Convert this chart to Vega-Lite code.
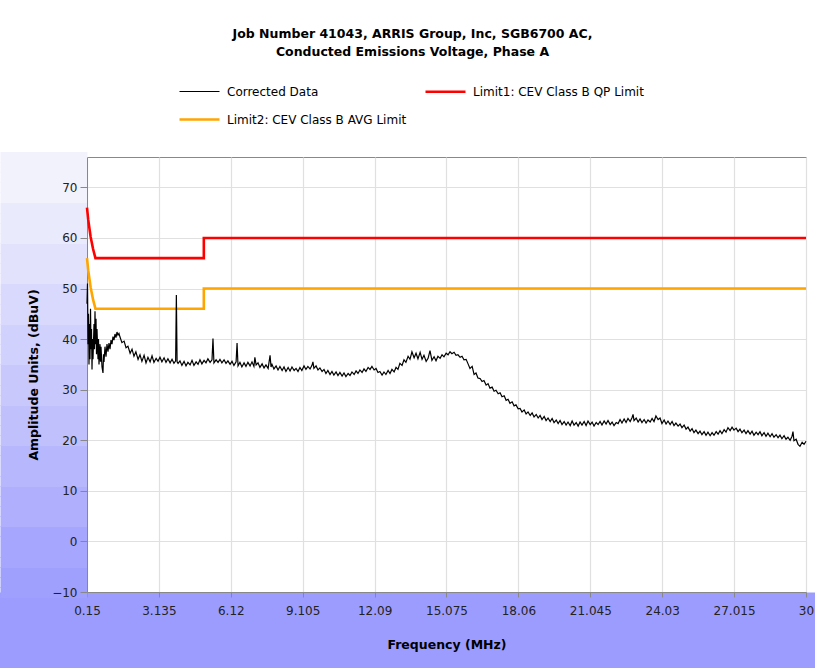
{
  "$schema": "https://vega.github.io/schema/vega-lite/v6.json",
  "width": 719,
  "height": 435,
  "autosize": {"type": "none"},
  "padding": {"left": 87, "top": 157, "right": 9, "bottom": 76},
  "background": "#ffffff",
  "title": {
    "text": ["Job Number 41043, ARRIS  Group, Inc, SGB6700 AC,", "Conducted Emissions Voltage, Phase A"],
    "anchor": "middle", "dx": -34, "font": "DejaVu Sans", "fontSize": 12.5, "fontWeight": "bold",
    "color": "#000000", "lineHeight": 18, "offset": 12
  },
  "config": {
    "view": {"stroke": "#888888", "strokeWidth": 1, "fill": "#ffffff"},
    "axis": {"labelFont": "DejaVu Sans", "labelFontSize": 12, "labelColor": "#222222", "titleFont": "DejaVu Sans", "titleFontSize": 12.5, "titleFontWeight": "bold", "titleColor": "#000000", "domainColor": "#888888", "gridColor": "#e0e0e0", "gridWidth": 1.2}
  },
  "resolve": {"axis": {"x": "independent", "y": "independent"}},
  "datasets": {
    "limits": [
      {"f": 0.15, "v": 66, "s": "Limit1: CEV Class B QP Limit", "o": 1},
      {"f": 0.2, "v": 63.61, "s": "Limit1: CEV Class B QP Limit", "o": 2},
      {"f": 0.3, "v": 60.24, "s": "Limit1: CEV Class B QP Limit", "o": 3},
      {"f": 0.4, "v": 57.85, "s": "Limit1: CEV Class B QP Limit", "o": 4},
      {"f": 0.5, "v": 56, "s": "Limit1: CEV Class B QP Limit", "o": 5},
      {"f": 5, "v": 56, "s": "Limit1: CEV Class B QP Limit", "o": 6},
      {"f": 5, "v": 60, "s": "Limit1: CEV Class B QP Limit", "o": 7},
      {"f": 30, "v": 60, "s": "Limit1: CEV Class B QP Limit", "o": 8},
      {"f": 0.15, "v": 56, "s": "Limit2: CEV Class B AVG Limit", "o": 1},
      {"f": 0.2, "v": 53.61, "s": "Limit2: CEV Class B AVG Limit", "o": 2},
      {"f": 0.3, "v": 50.24, "s": "Limit2: CEV Class B AVG Limit", "o": 3},
      {"f": 0.4, "v": 47.85, "s": "Limit2: CEV Class B AVG Limit", "o": 4},
      {"f": 0.5, "v": 46, "s": "Limit2: CEV Class B AVG Limit", "o": 5},
      {"f": 5, "v": 46, "s": "Limit2: CEV Class B AVG Limit", "o": 6},
      {"f": 5, "v": 50, "s": "Limit2: CEV Class B AVG Limit", "o": 7},
      {"f": 30, "v": 50, "s": "Limit2: CEV Class B AVG Limit", "o": 8}
    ],
    "trace": [
      {"f":0.150,"v":47},{"f":0.171,"v":51},{"f":0.192,"v":39},{"f":0.212,"v":45},{"f":0.233,"v":35},{"f":0.254,"v":43},{"f":0.275,"v":36},{"f":0.296,"v":46},{"f":0.316,"v":38},{"f":0.337,"v":42},
      {"f":0.358,"v":34},{"f":0.378,"v":40},{"f":0.399,"v":36},{"f":0.441,"v":43},{"f":0.461,"v":38},{"f":0.482,"v":45.5},{"f":0.503,"v":39},{"f":0.524,"v":44},{"f":0.545,"v":37},{"f":0.565,"v":42},
      {"f":0.607,"v":36},{"f":0.628,"v":40},{"f":0.648,"v":35},{"f":0.690,"v":39},{"f":0.711,"v":35.5},{"f":0.731,"v":38.5},{"f":0.773,"v":34.5},{"f":0.814,"v":33.3},{"f":0.835,"v":37},{"f":0.856,"v":35.5},
      {"f":0.897,"v":38.5},{"f":0.939,"v":36.5},{"f":0.980,"v":39},{"f":1.022,"v":37.5},{"f":1.063,"v":39.2},{"f":1.105,"v":38},{"f":1.146,"v":39.8},{"f":1.188,"v":39},{"f":1.229,"v":40.5},{"f":1.271,"v":39.8},
      {"f":1.312,"v":41},{"f":1.354,"v":40.3},{"f":1.395,"v":41.4},{"f":1.437,"v":40.8},{"f":1.478,"v":41.1},
      {"f":1.52,"v":40.4},{"f":1.60,"v":39.3},{"f":1.69,"v":39.6},{"f":1.77,"v":38.3},{"f":1.85,"v":38.6},{"f":1.94,"v":37.2},{"f":2.02,"v":38.0},{"f":2.10,"v":36.6},{"f":2.18,"v":37.5},{"f":2.27,"v":36.0},
      {"f":2.35,"v":36.9},{"f":2.43,"v":35.6},{"f":2.52,"v":36.8},{"f":2.60,"v":35.3},{"f":2.68,"v":36.4},{"f":2.77,"v":35.5},{"f":2.85,"v":36.7},{"f":2.93,"v":35.4},{"f":3.02,"v":36.2},{"f":3.10,"v":35.6},
      {"f":3.18,"v":36.4},{"f":3.26,"v":35.5},{"f":3.35,"v":36.3},{"f":3.43,"v":35.4},{"f":3.51,"v":36.1},{"f":3.60,"v":35.3},{"f":3.68,"v":36.0},{"f":3.76,"v":35.2},{"f":3.83,"v":35.7},{"f":3.86,"v":48.7},{"f":3.89,"v":35.5},{"f":3.93,"v":35.2},
      {"f":4.01,"v":35.7},{"f":4.09,"v":34.8},{"f":4.18,"v":35.6},{"f":4.26,"v":34.7},{"f":4.34,"v":35.4},{"f":4.43,"v":34.9},{"f":4.51,"v":35.8},{"f":4.59,"v":34.8},{"f":4.68,"v":35.5},{"f":4.76,"v":35.0},
      {"f":4.84,"v":35.9},{"f":4.92,"v":35.1},{"f":5.01,"v":35.8},{"f":5.09,"v":35.3},{"f":5.17,"v":36.1},{"f":5.26,"v":35.4},{"f":5.34,"v":35.9},{"f":5.38,"v":40.1},{"f":5.42,"v":35.3},{"f":5.51,"v":35.9},{"f":5.59,"v":35.4},
      {"f":5.67,"v":36.0},{"f":5.75,"v":35.3},{"f":5.84,"v":35.9},{"f":5.92,"v":35.2},{"f":6.00,"v":35.7},{"f":6.09,"v":35.0},{"f":6.17,"v":35.6},{"f":6.25,"v":34.8},{"f":6.34,"v":35.5},{"f":6.38,"v":39.2},{"f":6.42,"v":34.7},
      {"f":6.50,"v":35.4},{"f":6.58,"v":34.5},{"f":6.67,"v":35.3},{"f":6.75,"v":34.6},{"f":6.83,"v":35.4},{"f":6.92,"v":34.7},{"f":7.00,"v":35.5},{"f":7.08,"v":34.6},{"f":7.12,"v":36.4},{"f":7.17,"v":34.9},{"f":7.25,"v":35.3},
      {"f":7.33,"v":34.4},{"f":7.42,"v":35.1},{"f":7.50,"v":34.3},{"f":7.58,"v":34.9},{"f":7.67,"v":34.2},{"f":7.75,"v":36.8},{"f":7.79,"v":34.5},{"f":7.83,"v":35.0},{"f":7.91,"v":34.1},{"f":8.00,"v":34.7},{"f":8.08,"v":33.9},
      {"f":8.16,"v":34.6},{"f":8.25,"v":33.8},{"f":8.33,"v":34.5},{"f":8.41,"v":33.6},{"f":8.50,"v":34.4},{"f":8.58,"v":33.7},{"f":8.66,"v":34.5},{"f":8.75,"v":33.8},{"f":8.83,"v":34.2},{"f":8.91,"v":33.6},
      {"f":8.99,"v":34.4},{"f":9.07,"v":33.8},{"f":9.16,"v":34.7},{"f":9.24,"v":34.0},{"f":9.32,"v":34.6},{"f":9.41,"v":34.1},{"f":9.49,"v":34.8},{"f":9.53,"v":35.5},{"f":9.57,"v":34.2},{"f":9.66,"v":34.7},{"f":9.74,"v":33.9},
      {"f":9.82,"v":34.3},{"f":9.91,"v":33.6},{"f":9.99,"v":34.0},{"f":10.07,"v":33.2},{"f":10.15,"v":33.8},{"f":10.24,"v":33.0},{"f":10.32,"v":33.6},{"f":10.40,"v":32.9},{"f":10.49,"v":33.5},{"f":10.57,"v":32.8},
      {"f":10.65,"v":33.4},{"f":10.74,"v":32.7},{"f":10.82,"v":33.3},{"f":10.90,"v":32.6},{"f":10.99,"v":33.2},{"f":11.07,"v":32.8},{"f":11.15,"v":33.5},{"f":11.24,"v":33.0},{"f":11.32,"v":33.7},{"f":11.40,"v":33.2},
      {"f":11.48,"v":33.9},{"f":11.57,"v":33.4},{"f":11.65,"v":34.1},{"f":11.73,"v":33.6},{"f":11.82,"v":34.4},{"f":11.90,"v":34.0},{"f":11.98,"v":34.6},{"f":12.07,"v":33.9},{"f":12.15,"v":34.2},{"f":12.23,"v":33.4},
      {"f":12.31,"v":33.6},{"f":12.40,"v":32.9},{"f":12.48,"v":33.5},{"f":12.56,"v":33.0},{"f":12.65,"v":33.8},{"f":12.73,"v":33.2},{"f":12.81,"v":34.0},{"f":12.90,"v":33.5},{"f":12.98,"v":34.4},{"f":13.06,"v":34.0},
      {"f":13.14,"v":35.2},{"f":13.23,"v":34.8},{"f":13.31,"v":35.9},{"f":13.39,"v":35.4},{"f":13.48,"v":36.6},{"f":13.56,"v":36.0},{"f":13.64,"v":37.5},{"f":13.73,"v":36.3},{"f":13.81,"v":37.2},{"f":13.89,"v":36.1},
      {"f":13.98,"v":37.4},{"f":14.06,"v":36.0},{"f":14.14,"v":36.8},{"f":14.23,"v":35.6},{"f":14.31,"v":36.2},{"f":14.39,"v":37.7},{"f":14.47,"v":35.8},{"f":14.56,"v":36.5},{"f":14.64,"v":35.7},{"f":14.72,"v":36.6},
      {"f":14.81,"v":36.2},{"f":14.89,"v":36.9},{"f":14.97,"v":36.5},{"f":15.06,"v":37.2},{"f":15.14,"v":36.9},{"f":15.22,"v":37.5},{"f":15.30,"v":37.1},{"f":15.39,"v":37.4},{"f":15.47,"v":36.8},{"f":15.55,"v":36.9},
      {"f":15.64,"v":36.4},{"f":15.72,"v":36.6},{"f":15.80,"v":35.9},{"f":15.89,"v":36.0},{"f":15.97,"v":35.1},{"f":16.05,"v":34.2},{"f":16.14,"v":34.6},{"f":16.22,"v":33.0},{"f":16.30,"v":33.3},{"f":16.38,"v":32.3},
      {"f":16.47,"v":32.2},{"f":16.55,"v":31.6},{"f":16.63,"v":31.8},{"f":16.72,"v":30.9},{"f":16.80,"v":31.2},{"f":16.88,"v":30.3},{"f":16.97,"v":30.5},{"f":17.05,"v":29.7},{"f":17.13,"v":29.9},{"f":17.22,"v":29.2},
      {"f":17.30,"v":29.4},{"f":17.38,"v":28.6},{"f":17.47,"v":28.8},{"f":17.55,"v":27.9},{"f":17.63,"v":28.1},{"f":17.71,"v":27.3},{"f":17.80,"v":27.6},{"f":17.88,"v":26.8},{"f":17.96,"v":27.0},{"f":18.05,"v":26.2},
      {"f":18.13,"v":26.3},{"f":18.21,"v":25.6},{"f":18.30,"v":26.0},{"f":18.38,"v":25.2},{"f":18.46,"v":25.6},{"f":18.55,"v":24.9},{"f":18.63,"v":25.4},{"f":18.71,"v":24.6},{"f":18.80,"v":25.1},{"f":18.88,"v":24.4},
      {"f":18.96,"v":24.9},{"f":19.04,"v":24.1},{"f":19.13,"v":24.7},{"f":19.21,"v":23.9},{"f":19.29,"v":24.4},{"f":19.38,"v":23.7},{"f":19.46,"v":24.3},{"f":19.54,"v":23.5},{"f":19.63,"v":24.0},{"f":19.71,"v":23.3},
      {"f":19.79,"v":23.9},{"f":19.87,"v":23.1},{"f":19.96,"v":23.7},{"f":20.04,"v":23.0},{"f":20.12,"v":23.6},{"f":20.21,"v":22.9},{"f":20.29,"v":23.8},{"f":20.37,"v":23.0},{"f":20.46,"v":23.5},{"f":20.54,"v":22.8},
      {"f":20.62,"v":23.6},{"f":20.70,"v":23.0},{"f":20.79,"v":23.7},{"f":20.87,"v":22.9},{"f":20.95,"v":23.8},{"f":21.04,"v":23.1},{"f":21.12,"v":23.6},{"f":21.20,"v":22.8},{"f":21.29,"v":23.5},{"f":21.37,"v":23.1},
      {"f":21.45,"v":23.7},{"f":21.53,"v":23.0},{"f":21.62,"v":23.8},{"f":21.70,"v":23.2},{"f":21.78,"v":23.9},{"f":21.87,"v":23.1},{"f":21.95,"v":23.6},{"f":22.03,"v":22.9},{"f":22.12,"v":23.5},{"f":22.20,"v":23.3},
      {"f":22.28,"v":24.1},{"f":22.36,"v":23.4},{"f":22.45,"v":24.2},{"f":22.53,"v":23.5},{"f":22.61,"v":24.3},{"f":22.70,"v":23.7},{"f":22.78,"v":24.5},{"f":22.82,"v":25.1},{"f":22.86,"v":23.9},{"f":22.95,"v":24.4},{"f":23.03,"v":23.6},
      {"f":23.11,"v":24.2},{"f":23.19,"v":23.5},{"f":23.28,"v":24.1},{"f":23.36,"v":23.4},{"f":23.44,"v":24.0},{"f":23.53,"v":23.6},{"f":23.61,"v":24.3},{"f":23.69,"v":23.7},{"f":23.77,"v":24.8},{"f":23.86,"v":24.1},
      {"f":23.94,"v":24.4},{"f":24.02,"v":23.3},{"f":24.11,"v":24.0},{"f":24.19,"v":23.2},{"f":24.27,"v":23.8},{"f":24.36,"v":23.1},{"f":24.44,"v":23.7},{"f":24.52,"v":22.9},{"f":24.60,"v":23.4},{"f":24.69,"v":22.8},
      {"f":24.77,"v":23.2},{"f":24.85,"v":22.5},{"f":24.94,"v":23.0},{"f":25.02,"v":22.2},{"f":25.10,"v":22.6},{"f":25.19,"v":21.8},{"f":25.27,"v":22.3},{"f":25.35,"v":21.5},{"f":25.43,"v":22.0},{"f":25.52,"v":21.3},
      {"f":25.60,"v":21.8},{"f":25.68,"v":21.1},{"f":25.77,"v":21.7},{"f":25.85,"v":21.0},{"f":25.93,"v":21.6},{"f":26.02,"v":20.9},{"f":26.10,"v":21.5},{"f":26.18,"v":21.0},{"f":26.27,"v":21.7},{"f":26.35,"v":21.2},
      {"f":26.43,"v":21.9},{"f":26.51,"v":21.3},{"f":26.60,"v":22.1},{"f":26.68,"v":21.6},{"f":26.76,"v":22.5},{"f":26.85,"v":21.9},{"f":26.93,"v":22.6},{"f":27.01,"v":22.0},{"f":27.10,"v":22.4},{"f":27.18,"v":21.7},
      {"f":27.26,"v":22.2},{"f":27.34,"v":21.5},{"f":27.43,"v":22.0},{"f":27.51,"v":21.3},{"f":27.59,"v":21.9},{"f":27.68,"v":21.2},{"f":27.76,"v":21.8},{"f":27.84,"v":21.0},{"f":27.93,"v":21.6},{"f":28.01,"v":21.1},
      {"f":28.09,"v":21.7},{"f":28.17,"v":20.9},{"f":28.26,"v":21.5},{"f":28.34,"v":20.8},{"f":28.42,"v":21.4},{"f":28.51,"v":20.7},{"f":28.59,"v":21.3},{"f":28.67,"v":20.6},{"f":28.76,"v":21.1},{"f":28.84,"v":20.5},
      {"f":28.92,"v":21.0},{"f":29.00,"v":20.3},{"f":29.09,"v":20.9},{"f":29.17,"v":20.2},{"f":29.25,"v":20.6},{"f":29.34,"v":20.0},{"f":29.42,"v":20.8},{"f":29.46,"v":21.7},{"f":29.50,"v":19.9},{"f":29.59,"v":20.2},
      {"f":29.67,"v":19.2},{"f":29.75,"v":18.8},{"f":29.84,"v":19.6},{"f":29.92,"v":19.2},{"f":30.00,"v":19.8}
    ]
  },
  "layer": [
    {
      "data": {"name": "limits"},
      "mark": {"type": "line", "strokeCap": "butt", "strokeJoin": "miter"},
      "encoding": {
        "x": {"field": "f", "type": "quantitative", "scale": {"domain": [0.15, 30], "nice": false, "zero": false},
          "axis": {"orient": "bottom", "values": [0.15, 6.12, 12.09, 18.06, 24.03, 30], "labels": false, "domain": false, "grid": false, "ticks": true, "tickSize": 80, "tickWidth": 180, "tickColor": "#9c9cfe", "tickCap": "butt", "title": null}},
        "y": {"field": "v", "type": "quantitative", "scale": {"domain": [-10, 76], "nice": false, "zero": false},
          "axis": {"orient": "left", "values": [-10, -8, -6, -4, -2, 0, 2, 4, 6, 8, 10, 12, 14, 16, 18, 20, 22, 24, 26, 28, 30, 32, 34, 36, 38, 40, 42, 44, 46, 48, 50, 52, 54, 56, 58, 60, 62, 64, 66, 68, 70, 72, 74, 76], "labels": false, "domain": false, "grid": false, "ticks": true, "tickSize": 87, "tickWidth": 11, "tickCap": "butt", "title": null,
            "tickColor": {"condition": [
              {"test": "datum.value < -4", "value": "#9f9ffe"},
              {"test": "datum.value < 4", "value": "#a6a6fe"},
              {"test": "datum.value < 12", "value": "#afaffe"},
              {"test": "datum.value < 20", "value": "#b7b7fd"},
              {"test": "datum.value < 28", "value": "#c0c0fd"},
              {"test": "datum.value < 36", "value": "#c8c8fd"},
              {"test": "datum.value < 44", "value": "#d1d1fd"},
              {"test": "datum.value < 52", "value": "#d9d9fd"},
              {"test": "datum.value < 60", "value": "#e2e2fd"},
              {"test": "datum.value < 68", "value": "#eaeafd"}
            ], "value": "#f2f2fd"}}},
        "order": {"field": "o", "type": "quantitative"},
        "color": {"field": "s", "type": "ordinal",
          "scale": {"domain": ["Corrected Data", "Limit2: CEV Class B AVG Limit", "Limit1: CEV Class B QP Limit"], "range": ["#000000", "#ffa500", "#ff0000"]},
          "legend": {"orient": "none", "legendX": 91, "legendY": -87, "columns": 2, "title": null, "symbolType": "stroke", "symbolSize": 1600, "labelFont": "DejaVu Sans", "labelFontSize": 12, "labelColor": "#000000", "labelLimit": 400, "columnPadding": 13, "rowPadding": 0, "labelOffset": 6, "padding": 0}},
        "strokeWidth": {"field": "s", "type": "ordinal",
          "scale": {"type": "ordinal", "domain": ["Corrected Data", "Limit2: CEV Class B AVG Limit", "Limit1: CEV Class B QP Limit"], "range": [1.2, 2.6, 2.6]},
          "legend": {"orient": "none", "legendX": 91, "legendY": -87, "columns": 2, "title": null, "symbolType": "stroke", "symbolSize": 1600, "labelFont": "DejaVu Sans", "labelFontSize": 12, "labelColor": "#000000", "labelLimit": 400, "columnPadding": 13, "rowPadding": 0, "labelOffset": 6, "padding": 0}}
      }
    },
    {
      "data": {"name": "trace"},
      "mark": {"type": "line", "strokeJoin": "miter"},
      "encoding": {
        "x": {"field": "f", "type": "quantitative", "scale": {"domain": [0.15, 30], "nice": false, "zero": false},
          "axis": {"orient": "bottom", "values": [0.15, 3.135, 6.12, 9.105, 12.09, 15.075, 18.06, 21.045, 24.03, 27.015, 30], "labelExpr": "'' + datum.value", "labelFlush": false, "labelOverlap": false, "tickSize": 5, "tickColor": "#888888", "labelPadding": 8, "grid": true, "title": "Frequency (MHz)", "titlePadding": 22}},
        "y": {"field": "v", "type": "quantitative", "scale": {"domain": [-10, 76], "nice": false, "zero": false},
          "axis": {"orient": "left", "values": [-10, 0, 10, 20, 30, 40, 50, 60, 70], "tickSize": 7, "tickColor": "#888888", "labelPadding": 3, "grid": true, "title": "Amplitude Units, (dBuV)", "titlePadding": 11}},
        "color": {"datum": "Corrected Data", "type": "ordinal",
          "scale": {"domain": ["Corrected Data", "Limit2: CEV Class B AVG Limit", "Limit1: CEV Class B QP Limit"], "range": ["#000000", "#ffa500", "#ff0000"]},
          "legend": {"orient": "none", "legendX": 91, "legendY": -87, "columns": 2, "title": null, "symbolType": "stroke", "symbolSize": 1600, "labelFont": "DejaVu Sans", "labelFontSize": 12, "labelColor": "#000000", "labelLimit": 400, "columnPadding": 13, "rowPadding": 0, "labelOffset": 6, "padding": 0}},
        "strokeWidth": {"datum": "Corrected Data", "type": "ordinal",
          "scale": {"type": "ordinal", "domain": ["Corrected Data", "Limit2: CEV Class B AVG Limit", "Limit1: CEV Class B QP Limit"], "range": [1.2, 2.6, 2.6]},
          "legend": {"orient": "none", "legendX": 91, "legendY": -87, "columns": 2, "title": null, "symbolType": "stroke", "symbolSize": 1600, "labelFont": "DejaVu Sans", "labelFontSize": 12, "labelColor": "#000000", "labelLimit": 400, "columnPadding": 13, "rowPadding": 0, "labelOffset": 6, "padding": 0}}
      }
    }
  ]
}
